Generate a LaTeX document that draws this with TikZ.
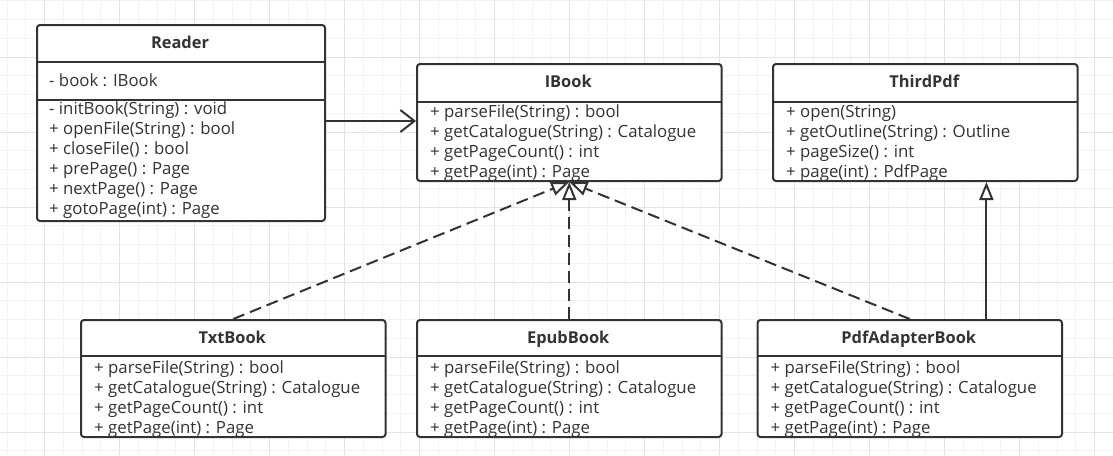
\documentclass[tikz,border=0pt]{standalone}
\usepackage{fontspec}
\setmainfont{Open Sans}
\usetikzlibrary{arrows.meta,calc}
\definecolor{ink}{HTML}{333333}
\definecolor{gridminor}{HTML}{F2F2F2}
\definecolor{gridmajor}{HTML}{E3E3E3}
\tikzset{
  x=1pt, y=-1pt,
  classbox/.style={draw=ink, line width=2pt, fill=white, rounded corners=3pt, inner sep=0pt, anchor=north west, minimum width=304.5pt, minimum height=117pt},
  sepline/.style={draw=ink, line width=2pt},
  titletext/.style={font=\fontsize{16.4}{18}\selectfont\bfseries, text=ink, inner sep=0pt, anchor=base},
  membertext/.style={font=\fontsize{16.8}{19}\selectfont, text=ink, inner sep=0pt, anchor=base west},
  realize/.style={draw=ink, line width=2pt, dash pattern=on 12pt off 6pt, -{Triangle[open, length=18pt, width=14pt, fill=white, line width=2pt]}},
  inherit/.style={draw=ink, line width=2pt, -{Triangle[open, length=18pt, width=14pt, fill=white, line width=2pt]}},
  assoc/.style={draw=ink, line width=2pt, -{Straight Barb[length=14pt, width=22pt, line width=2pt]}},
  minorgrid/.style={draw=gridminor, line width=1pt},
  majorgrid/.style={draw=gridmajor, line width=1pt}
}
\begin{document}
\begin{tikzpicture}
% background and bounding box
\fill[white] (0,0) rectangle (1113,455);
\useasboundingbox (0,0) rectangle (1113,455);
% grid
\foreach \i in {0,...,59} { \draw[minorgrid] ({7+18.75*\i},0) -- ({7+18.75*\i},455); }
\foreach \j in {0,...,24} { \draw[minorgrid] (0,{0.75+18.75*\j}) -- (1113,{0.75+18.75*\j}); }
\foreach \i in {0,...,14} { \draw[majorgrid] ({44.5+75*\i},0) -- ({44.5+75*\i},455); }
\foreach \j in {0,...,5} { \draw[majorgrid] (0,{57+75*\j}) -- (1113,{57+75*\j}); }

% ---------- Reader ----------
\node[classbox, minimum width=288pt, minimum height=196pt] (reader) at (36,24) {};
\draw[sepline] (36,62) -- (324,62);
\draw[sepline] (36,99.5) -- (324,99.5);
\node[titletext] (readerT) at (180,48.5) {Reader};
\node[membertext] (readerA) at (49,86.5) {- book : IBook};
\node[membertext] (readerM1) at (49,114) {- initBook(String) : void};
\node[membertext] (readerM2) at (49,134) {+ openFile(String) : bool};
\node[membertext] (readerM3) at (49,154) {+ closeFile() : bool};
\node[membertext] (readerM4) at (49,174) {+ prePage() : Page};
\node[membertext] (readerM5) at (49,194) {+ nextPage() : Page};
\node[membertext] (readerM6) at (49,214) {+ gotoPage(int) : Page};

% ---------- IBook ----------
\node[classbox] (ibook) at (416,63) {};
\draw[sepline] (416,101.5) -- (720.5,101.5);
\node[titletext] (ibookT) at (568.25,87.5) {IBook};
\node[membertext] (ibookM1) at (430,117) {+ parseFile(String) : bool};
\node[membertext] (ibookM2) at (430,137) {+ getCatalogue(String) : Catalogue};
\node[membertext] (ibookM3) at (430,157) {+ getPageCount() : int};
\node[membertext] (ibookM4) at (430,177) {+ getPage(int) : Page};

% ---------- ThirdPdf ----------
\node[classbox] (third) at (772,63) {};
\draw[sepline] (772,101.5) -- (1076.5,101.5);
\node[titletext] (thirdT) at (924.25,87.5) {ThirdPdf};
\node[membertext] (thirdM1) at (786,117) {+ open(String)};
\node[membertext] (thirdM2) at (786,137) {+ getOutline(String) : Outline};
\node[membertext] (thirdM3) at (786,157) {+ pageSize() : int};
\node[membertext] (thirdM4) at (786,177) {+ page(int) : PdfPage};

% ---------- TxtBook ----------
\node[classbox] (txt) at (80,319) {};
\draw[sepline] (80,356) -- (384.5,356);
\node[titletext] (txtT) at (232.25,343.5) {TxtBook};
\node[membertext] (txtM1) at (94,373) {+ parseFile(String) : bool};
\node[membertext] (txtM2) at (94,393) {+ getCatalogue(String) : Catalogue};
\node[membertext] (txtM3) at (94,413) {+ getPageCount() : int};
\node[membertext] (txtM4) at (94,433) {+ getPage(int) : Page};

% ---------- EpubBook ----------
\node[classbox] (epub) at (416,319) {};
\draw[sepline] (416,356) -- (720.5,356);
\node[titletext] (epubT) at (568.25,343.5) {EpubBook};
\node[membertext] (epubM1) at (430,373) {+ parseFile(String) : bool};
\node[membertext] (epubM2) at (430,393) {+ getCatalogue(String) : Catalogue};
\node[membertext] (epubM3) at (430,413) {+ getPageCount() : int};
\node[membertext] (epubM4) at (430,433) {+ getPage(int) : Page};

% ---------- PdfAdapterBook ----------
\node[classbox] (pdfa) at (756.5,319) {};
\draw[sepline] (756.5,356) -- (1061,356);
\node[titletext] (pdfaT) at (908.75,343.5) {PdfAdapterBook};
\node[membertext] (pdfaM1) at (770.5,373) {+ parseFile(String) : bool};
\node[membertext] (pdfaM2) at (770.5,393) {+ getCatalogue(String) : Catalogue};
\node[membertext] (pdfaM3) at (770.5,413) {+ getPageCount() : int};
\node[membertext] (pdfaM4) at (770.5,433) {+ getPage(int) : Page};

% ---------- connectors ----------
\draw[assoc] (reader.east |- 0,121) -- (ibook.west |- 0,121);
\draw[realize] (txt.north) -- (ibook.south);
\draw[realize] (epub.north) -- (ibook.south);
\draw[realize] (pdfa.north) -- (ibook.south);
\coordinate (pdfaUp) at ($(pdfa.north west)!0.75!(pdfa.north east)$);
\draw[inherit] (pdfaUp) -- (pdfaUp |- third.south);
\end{tikzpicture}
\end{document}
